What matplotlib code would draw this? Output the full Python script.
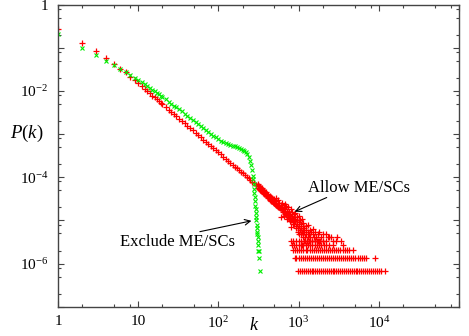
import numpy as np
import matplotlib
matplotlib.use('Agg')
import matplotlib.pyplot as plt
from matplotlib.ticker import FixedLocator, LogLocator, NullFormatter, FuncFormatter

plt.rcParams['font.family'] = ['Liberation Serif', 'DejaVu Serif']
plt.rcParams['mathtext.fontset'] = 'custom'
plt.rcParams['mathtext.rm'] = 'Liberation Serif'
plt.rcParams['mathtext.it'] = 'Liberation Serif:italic'

# "Allow ME/SCs" (red +): main power-law part
red_k = [1, 2, 3, 4, 5, 6, 7, 8, 9, 10, 11, 12, 13, 14, 15, 16, 17, 18, 19, 20,
         22, 24, 26, 28, 30, 32, 35, 38, 41, 44, 48, 52, 56, 60, 65, 70, 75, 80,
         86, 92, 100, 107, 115, 123, 132, 141, 150, 160, 170, 180, 190, 200,
         212, 225, 238, 250, 265, 280, 295, 310]
red_p = [0.28, 0.133, 0.084, 0.059, 0.043, 0.033, 0.027, 0.021, 0.018, 0.015,
         0.0129, 0.0112, 0.0099, 0.0088, 0.0078, 0.0071, 0.0064, 0.0059, 0.0054,
         0.0050, 0.00425, 0.0037, 0.00325, 0.0029, 0.0026, 0.0023, 0.0020,
         0.00177, 0.00157, 0.0014, 0.00122, 0.00107, 9.5e-4, 8.5e-4, 7.5e-4,
         6.7e-4, 6.0e-4, 5.4e-4, 4.8e-4, 4.3e-4, 3.8e-4, 3.4e-4, 3.0e-4, 2.7e-4,
         2.4e-4, 2.2e-4, 1.97e-4, 1.78e-4, 1.61e-4, 1.47e-4, 1.35e-4, 1.24e-4,
         1.13e-4, 1.03e-4, 9.4e-5, 8.7e-5, 7.9e-5, 7.3e-5, 6.7e-5, 6.2e-5]

# red: noisy band beyond k ~ 300
band_k = [320, 325, 330, 335, 340, 345, 350, 355, 360, 368, 375, 382, 390, 398,
          405, 412, 420, 428, 436, 445, 453, 462, 470, 480, 490, 500, 510, 520,
          530, 541, 552, 563, 575, 587, 600, 612, 625, 640, 655, 670, 685, 700,
          716, 732, 750, 768, 786, 805, 825, 845, 866, 888, 910, 933, 957, 982,
          1008, 1035, 1062, 1090, 1120, 1150, 1180, 1212, 1245, 1280, 1315, 1352,
          1390, 1430, 1470, 1512, 1556, 1600, 1650, 1700, 1760, 1820, 1900, 2000,
          700, 800, 900, 1000, 1100, 1300, 1500, 1800, 2200, 2500, 600, 800, 1000,
          2300, 2700, 3000, 3400,
          310, 315, 330, 345, 360, 375, 390, 405, 420, 436, 453, 470, 490, 510,
          530, 552, 575, 600, 625, 655, 685, 716, 750, 786, 825, 866, 910, 957,
          1008, 1062, 1120, 1180, 1245, 1315, 1390,
          520, 560, 620, 680, 740, 820, 880, 950, 1050, 1150, 1250, 1400, 1600,
          2000, 2400, 2900, 3600,
          650, 720, 780, 850, 920, 990, 1060, 1130, 1200, 1100]
band_p = [6.4e-5, 5.5e-5, 6.0e-5, 5.2e-5, 5.8e-5, 4.9e-5, 5.3e-5, 4.6e-5, 5.0e-5,
          4.4e-5, 4.8e-5, 4.0e-5, 4.5e-5, 3.8e-5, 4.2e-5, 3.5e-5, 3.9e-5, 3.3e-5,
          3.7e-5, 3.0e-5, 3.5e-5, 2.9e-5, 3.3e-5, 2.7e-5, 3.1e-5, 2.5e-5, 2.9e-5,
          2.3e-5, 2.8e-5, 2.2e-5, 2.6e-5, 2.0e-5, 2.5e-5, 1.9e-5, 2.3e-5, 1.75e-5,
          2.1e-5, 1.6e-5, 2.0e-5, 1.45e-5, 1.85e-5, 1.35e-5, 1.7e-5, 1.2e-5,
          1.55e-5, 1.1e-5, 1.45e-5, 1.0e-5, 1.3e-5, 9.0e-6, 1.2e-5, 8.2e-6, 1.1e-5,
          7.5e-6, 1.0e-5, 6.8e-6, 9.0e-6, 6.1e-6, 8.2e-6, 5.4e-6, 7.5e-6, 4.8e-6,
          6.8e-6, 4.1e-6, 6.1e-6, 3.4e-6, 5.4e-6, 4.8e-6, 4.1e-6, 5.4e-6, 3.4e-6,
          4.8e-6, 4.1e-6, 3.4e-6, 4.1e-6, 3.4e-6, 4.8e-6, 3.4e-6, 4.1e-6, 3.4e-6,
          2.2e-5, 1.8e-5, 1.5e-5, 1.3e-5, 1.1e-5, 8.0e-6, 6.5e-6, 5.4e-6, 4.8e-6,
          4.1e-6, 1.2e-5, 7.0e-6, 4.8e-6, 4.1e-6, 3.4e-6, 4.1e-6, 3.4e-6,
          7.0e-5, 5.8e-5, 5.0e-5, 5.6e-5, 4.3e-5, 4.2e-5, 3.9e-5, 3.6e-5, 3.3e-5,
          3.1e-5, 2.9e-5, 2.8e-5, 2.6e-5, 2.4e-5, 2.3e-5, 2.1e-5, 2.0e-5, 1.9e-5,
          1.8e-5, 1.7e-5, 1.6e-5, 1.5e-5, 1.35e-5, 1.25e-5, 1.15e-5, 1.05e-5,
          9.5e-6, 8.5e-6, 7.5e-6, 6.8e-6, 6.1e-6, 5.4e-6, 4.8e-6, 4.1e-6, 3.4e-6,
          3.4e-5, 3.0e-5, 2.6e-5, 2.4e-5, 2.0e-5, 1.6e-5, 1.4e-5, 1.2e-5, 1.0e-5,
          8.8e-6, 7.5e-6, 6.1e-6, 5.4e-6, 4.8e-6, 4.1e-6, 3.4e-6, 2.7e-6,
          1.3e-5, 1.1e-5, 9.5e-6, 8.2e-6, 6.8e-6, 5.4e-6, 4.8e-6, 4.1e-6, 3.4e-6,
          2.7e-6]

# red: rows of single/double/... counts in the tail (count / N)
row_levels = [6.8e-7, 1.36e-6, 2.04e-6, 2.72e-6, 3.4e-6]
row1_k = [980, 1040, 1100, 1160, 1230, 1300, 1370, 1450, 1530, 1620, 1710, 1810,
          1910, 2020, 2130, 2250, 2380, 2510, 2650, 2800, 2960, 3130, 3300, 3490,
          3690, 3900, 4120, 4350, 4600, 4860, 5130, 5420, 5730, 6050, 6400, 6760,
          7150, 7550, 8000, 8450, 8950, 9500, 10100, 10800, 11800]
row2_k = [890, 940, 1000, 1060, 1120, 1190, 1260, 1340, 1420, 1500, 1590, 1690,
          1790, 1900, 2010, 2130, 2260, 2400, 2540, 2690, 2860, 3030, 3210, 3400,
          3610, 3830, 4060, 4300, 4560, 4830, 5120, 5430, 5760, 6100, 6500, 6950,
          8900]
row3_k = [850, 900, 960, 1020, 1080, 1150, 1220, 1290, 1370, 1450, 1540, 1630,
          1730, 1840, 1950, 2070, 2190, 2330, 2470, 2620, 2780, 2950, 3130, 3320,
          3530, 3750, 4000, 4300, 4700]
row4_k = [820, 880, 940, 1000, 1070, 1140, 1220, 1300, 1390, 1480, 1580, 1690,
          1800, 1920, 2050, 2200, 2400, 2660]
row5_k = [800, 860, 930, 1000, 1080, 1170, 1260, 1360, 1470, 1590, 1720, 1860,
          2000, 2200]
row_ks = [row1_k, row2_k, row3_k, row4_k, row5_k]

# "Exclude ME/SCs" (green x)
green_k = [1, 2, 3, 4, 5, 6, 7, 8, 9, 10, 11, 12, 13, 14, 15, 16, 17, 18, 19, 20,
           22, 24, 26, 28, 30, 32, 35, 38, 41, 44, 48, 52, 56, 60, 65, 70, 75, 80,
           86, 92, 100, 107, 115, 123, 132, 141, 150, 160, 170, 180, 190, 200,
           210, 220, 230, 240, 248, 255, 262, 268, 272, 275, 278, 281, 284, 287,
           290, 292, 294, 296, 298, 300, 302, 304, 306, 308, 310, 313, 316, 320,
           325, 328]
green_p = [0.21, 0.10, 0.068, 0.050, 0.040, 0.032, 0.027, 0.023, 0.020, 0.018,
           0.0158, 0.0142, 0.0128, 0.0116, 0.0106, 0.0098, 0.0090, 0.0084, 0.0078,
           0.0073, 0.0064, 0.0057, 0.0051, 0.0046, 0.0042, 0.0038, 0.0034, 0.0030,
           0.0027, 0.0024, 0.0021, 0.0019, 0.0017, 0.00155, 0.0014, 0.00125,
           0.00113, 0.00103, 9.3e-4, 8.5e-4, 7.7e-4, 7.1e-4, 6.6e-4, 6.2e-4,
           5.9e-4, 5.6e-4, 5.4e-4, 5.2e-4, 5.0e-4, 4.8e-4, 4.6e-4, 4.4e-4, 4.1e-4,
           3.8e-4, 3.4e-4, 2.9e-4, 2.4e-4, 1.9e-4, 1.5e-4, 1.1e-4, 9e-5, 7e-5,
           5.5e-5, 4.4e-5, 3.5e-5, 2.8e-5, 2.2e-5, 1.8e-5, 1.5e-5, 1.2e-5, 1.0e-5,
           8e-6, 6.8e-6, 5.4e-6, 4.8e-6, 4.1e-6, 3.4e-6, 2.7e-6, 2.0e-6, 2.0e-6,
           1.36e-6, 6.8e-7]

fig = plt.figure(figsize=(4.69, 3.36), dpi=100)
ax = fig.add_axes([0.1237, 0.087, 0.855, 0.899])

red = '#ff0000'
green = '#00ee00'
ms = 4.5
mw = 0.9
ax.plot(red_k, red_p, '+', color=red, ms=ms, mew=mw)
ax.plot(band_k, band_p, '+', color=red, ms=ms, mew=mw)
for lev, ks in zip(row_levels, row_ks):
    ax.plot(ks, [lev] * len(ks), '+', color=red, ms=ms, mew=mw)
ax.plot(green_k, green_p, 'x', color=green, ms=3.5, mew=0.8)

ax.set_xscale('log')
ax.set_yscale('log')
ax.set_xlim(1, 1e5)
ax.set_ylim(1e-7, 1)

ax.xaxis.set_major_locator(FixedLocator([1, 10, 1e2, 1e3, 1e4, 1e5]))
ax.yaxis.set_major_locator(FixedLocator([1e-7, 1e-6, 1e-5, 1e-4, 1e-3, 1e-2, 1e-1, 1]))
ax.xaxis.set_minor_locator(LogLocator(base=10, subs=[2, 5, 8]))
ax.yaxis.set_minor_locator(LogLocator(base=10, subs=[2, 5, 8]))
ax.xaxis.set_minor_formatter(NullFormatter())
ax.yaxis.set_minor_formatter(NullFormatter())


def xfmt(v, pos):
    e = int(round(np.log10(v)))
    if e == 0:
        return '1'
    if e == 1:
        return '10'
    if e >= 5:
        return ''
    return r'$10^{%d}$' % e


def yfmt(v, pos):
    e = int(round(np.log10(v)))
    if e == 0:
        return '1'
    if e % 2 or e < -6:
        return ''
    return r'$10^{%d}$' % e


ax.xaxis.set_major_formatter(FuncFormatter(xfmt))
ax.yaxis.set_major_formatter(FuncFormatter(yfmt))

ax.tick_params(which='both', direction='in', top=True, right=True,
               labelsize=11, color='#444444')
ax.tick_params(which='major', length=4, width=0.8, pad=6)
ax.tick_params(which='minor', length=2.5, width=0.8)
ax.tick_params(axis='y', which='major', pad=7)
for s in ax.spines.values():
    s.set_color('#444444')
    s.set_linewidth(1.0)

ax.set_xlabel(r'$k$', fontsize=13, labelpad=-4)
ax.set_ylabel(r'$P(k)$', fontsize=13.5, rotation=0, va='center', ha='center')
ax.yaxis.set_label_coords(-0.077, 0.575)
ax.xaxis.set_label_coords(0.489, -0.035)

arrow = dict(arrowstyle='->', color='black', lw=0.8, shrinkA=0, shrinkB=0)
ax.annotate('', xy=(894, 1.6e-5), xytext=(2240, 3.4e-5), arrowprops=arrow)
ax.text(1300, 5.8e-5, 'Allow ME/SCs', fontsize=12, ha='left', va='center')
ax.annotate('', xy=(258, 9.8e-6), xytext=(58.7, 5.5e-6), arrowprops=arrow)
ax.text(5.9, 3.2e-6, 'Exclude ME/SCs', fontsize=12, ha='left', va='center')

fig.savefig('out.png', dpi=100)
